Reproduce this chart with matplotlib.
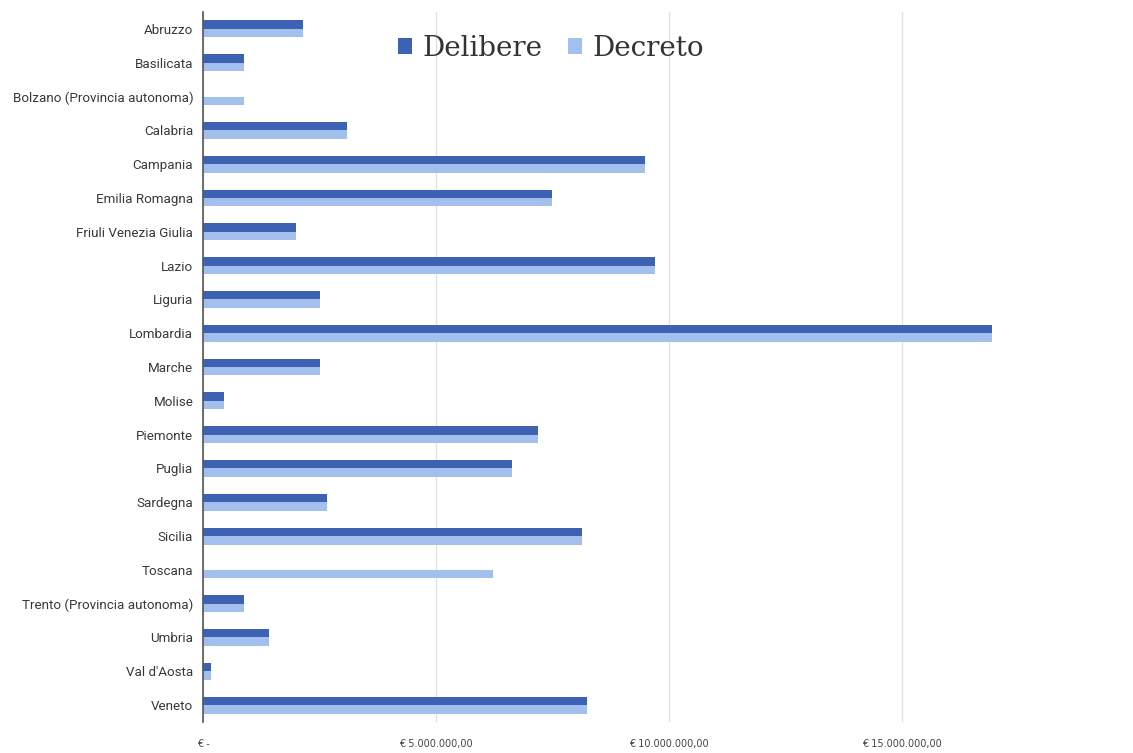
import matplotlib.pyplot as plt
import numpy as np
from matplotlib.ticker import FuncFormatter

regioni = ['Abruzzo', 'Basilicata', 'Bolzano (Provincia autonoma)', 'Calabria',
           'Campania', 'Emilia Romagna', 'Friuli Venezia Giulia', 'Lazio',
           'Liguria', 'Lombardia', 'Marche', 'Molise', 'Piemonte', 'Puglia',
           'Sardegna', 'Sicilia', 'Toscana', 'Trento (Provincia autonoma)',
           'Umbria', "Val d'Aosta", 'Veneto']

# importi in euro
delibere = [2150000, 880000, 0, 3090000, 9480000, 7490000, 2000000, 9700000,
            2510000, 16930000, 2510000, 450000, 7190000, 6630000, 2660000,
            8130000, 0, 880000, 1420000, 170000, 8240000]
decreto = [2150000, 880000, 880000, 3090000, 9480000, 7490000, 2000000, 9700000,
           2510000, 16930000, 2510000, 450000, 7190000, 6630000, 2660000,
           8130000, 6220000, 880000, 1420000, 170000, 8240000]

col_delibere = '#3d62b3'
col_decreto = '#a3bfee'


def euro(x, pos):
    if x == 0:
        return '€ -'
    s = f'{x:,.2f}'.replace(',', 'X').replace('.', ',').replace('X', '.')
    return '€ ' + s


fig = plt.figure(figsize=(11.33, 7.53), dpi=100)
ax = fig.add_axes([203 / 1133, 31 / 753, 932 / 1133, 710 / 753])

y = np.arange(len(regioni))
h = 0.25
ax.barh(y - h / 2, delibere, height=h, color=col_delibere, label='Delibere')
ax.barh(y + h / 2, decreto, height=h, color=col_decreto, label='Decreto')

ax.set_ylim(len(regioni) - 0.5, -0.5)
ax.set_xlim(0, 20000000)
ax.set_yticks(y)
ax.set_yticklabels(regioni, fontsize=9.6, color='#383838', family='Roboto')
ax.set_xticks([0, 5000000, 10000000, 15000000])
ax.xaxis.set_major_formatter(FuncFormatter(euro))
ax.tick_params(axis='x', labelsize=7, colors='#444444', length=0, pad=12)
ax.tick_params(axis='y', length=0, pad=7)

ax.grid(axis='x', color='#e0e0e0', linewidth=0.9)
ax.set_axisbelow(True)
for s in ['top', 'right', 'bottom']:
    ax.spines[s].set_visible(False)
ax.spines['left'].set_color('#555555')
ax.spines['left'].set_linewidth(1.2)

leg = ax.legend(loc='center', bbox_to_anchor=(551 / 1133, 1 - 48 / 753),
                bbox_transform=fig.transFigure, ncol=2, frameon=False,
                handlelength=0.5, handleheight=0.5, handletextpad=0.4,
                columnspacing=0.9, prop={'family': 'DejaVu Serif', 'size': 20})
for t in leg.get_texts():
    t.set_color('#333333')

fig.savefig('out.png', dpi=100, facecolor='white')
